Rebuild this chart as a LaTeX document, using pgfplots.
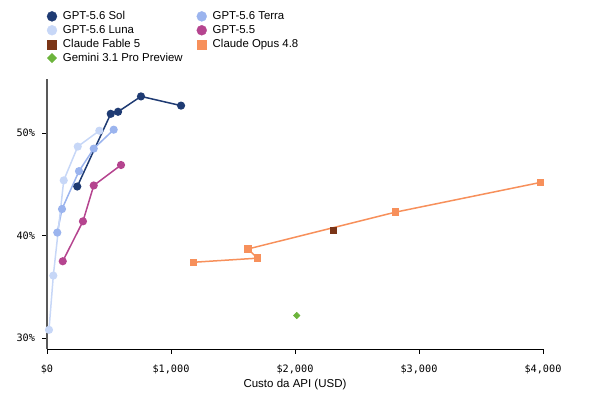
\documentclass[border=0pt]{standalone}
\usepackage{pgfplots}
\pgfplotsset{compat=1.18}
\usepackage{fontspec}
\setmainfont{Liberation Sans}
\setsansfont{Liberation Sans}
\setmonofont{DejaVu Sans Mono}
\definecolor{sol}{HTML}{1F3B73}
\definecolor{terra}{HTML}{9BB4EE}
\definecolor{luna}{HTML}{C7D7F7}
\definecolor{gpt55}{HTML}{B5448F}
\definecolor{fable}{HTML}{7B3517}
\definecolor{opus}{HTML}{F7905B}
\definecolor{gemini}{HTML}{6CB43C}
\begin{document}
\begin{tikzpicture}
\useasboundingbox (0pt,0pt) rectangle (600pt,400pt);
\begin{axis}[
  at={(47pt,50.7pt)}, anchor=south west,
  scale only axis, width=496pt, height=270.3pt,
  xmin=0, xmax=4000, ymin=28.9, ymax=55.3,
  axis lines*=left,
  axis line style={-},
  x axis line style={black, line width=0.9pt},
  y axis line style={black!65, line width=1.3pt},
  tick align=outside,
  major tick length=4.5pt,
  tick style={black, line width=0.8pt},
  xtick={0,1000,2000,3000,4000},
  xticklabels={\$0,{\$1,000},{\$2,000},{\$3,000},{\$4,000}},
  ytick={30,40,50},
  yticklabels={30\%,40\%,50\%},
  ticklabel style={font=\ttfamily\fontsize{10.2}{12}\selectfont, text=black},
  xticklabel style={yshift=-7pt},
  yticklabel style={xshift=-4pt},
  xlabel={Custo da API (USD)},
  xlabel style={at={(axis description cs:0.5,0)}, anchor=center, yshift=-35pt, font=\fontsize{11.5}{13}\selectfont},
  clip=false,
  legend columns=2,
  legend cell align=left,
  legend style={at={(axis description cs:0,1.252)}, anchor=north west,
    draw=none, fill=none, inner sep=0pt, outer sep=0pt,
    font=\fontsize{11.4}{13}\selectfont,
    nodes={inner sep=0pt, text height=8.5pt, text depth=2.5pt},
    row sep=2.9pt,
    /tikz/every odd column/.append style={column sep=6pt},
    /tikz/every even column/.append style={column sep=14pt}},
  legend image code/.code={\draw[#1] plot coordinates {(5pt,0pt)};},
]
\addplot[sol, line width=1.5pt, mark=*, mark size=3.3pt, mark options={solid, fill=sol},
  legend image post style={line width=0.3pt, mark size=5pt}]
  coordinates {(244,44.8) (514,51.9) (573,52.1) (758,53.6) (1081,52.7)};
\addlegendentry{GPT-5.6 Sol}
\addplot[terra, line width=1.5pt, mark=*, mark size=3.3pt, mark options={solid, fill=terra},
  legend image post style={line width=0.3pt, mark size=5pt}]
  coordinates {(83,40.3) (121,42.6) (258,46.3) (377,48.5) (538,50.35)};
\addlegendentry{GPT-5.6 Terra}
\addplot[luna, line width=1.5pt, mark=*, mark size=3.3pt, mark options={solid, fill=luna},
  legend image post style={line width=0.3pt, mark size=5pt}]
  coordinates {(16,30.8) (51,36.1) (135,45.4) (248,48.7) (422,50.25)};
\addlegendentry{GPT-5.6 Luna}
\addplot[gpt55, line width=1.5pt, mark=*, mark size=3.3pt, mark options={solid, fill=gpt55},
  legend image post style={line width=0.3pt, mark size=5pt}]
  coordinates {(127,37.5) (290,41.4) (377,44.9) (597,46.9)};
\addlegendentry{GPT-5.5}
\addplot[fable, only marks, mark=square*, mark size=3pt, mark options={solid, fill=fable},
  legend image post style={line width=0.3pt, mark size=4.5pt}]
  coordinates {(2309,40.5)};
\addlegendentry{Claude Fable 5}
\addplot[opus, line width=1.5pt, mark=square*, mark size=3pt, mark options={solid, fill=opus},
  legend image post style={line width=0.3pt, mark size=4.5pt}]
  coordinates {(1180,37.4) (1696,37.8) (1621,38.7) (2812,42.3) (3981,45.2)};
\addlegendentry{Claude Opus 4.8}
\addplot[gemini, only marks, mark=square*, mark size=2.3pt, mark options={solid, fill=gemini, rotate=45},
  legend image post style={line width=0.3pt, mark size=3.3pt}]
  coordinates {(2014,32.2)};
\addlegendentry{Gemini 3.1 Pro Preview}
\end{axis}
\end{tikzpicture}
\end{document}
